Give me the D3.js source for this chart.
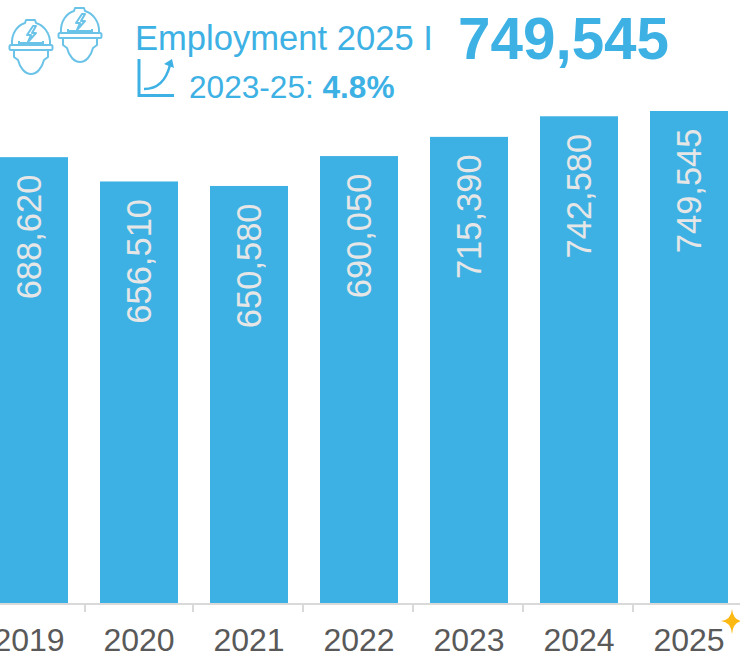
<!DOCTYPE html>
<html>
<head>
<meta charset="utf-8">
<script src="https://cdn.jsdelivr.net/npm/d3@7"></script>
<style>
html, body { margin: 0; padding: 0; background: #fff; overflow: hidden; }
text { font-family: "Liberation Sans", Arial, sans-serif; }
</style>
</head>
<body>
<div id="chart"></div>
<script>
const years = ['2019', '2020', '2021', '2022', '2023', '2024', '2025'];
const employment = [688620, 656510, 650580, 690050, 715390, 742580, 749545];
const yDomain = [100000, 749545];

const blue = '#3eb1e4';
const width = 740, height = 656;

const svg = d3.select('#chart').append('svg').attr('width', width).attr('height', height);

const x = d3.scaleBand().domain(years).range([-26, 744]).paddingInner(32 / 110).paddingOuter(16 / 110);
const y = d3.scaleLinear().domain(yDomain).range([603, 111]);

// bars
svg.selectAll('rect.bar').data(years).enter().append('rect')
    .attr('class', 'bar')
    .attr('x', d => x(d))
    .attr('y', (d, i) => y(employment[i]))
    .attr('width', x.bandwidth())
    .attr('height', (d, i) => y(yDomain[0]) - y(employment[i]))
    .attr('fill', blue);

// value labels, rotated inside the bars
svg.selectAll('text.val').data(years).enter().append('text')
    .attr('class', 'val')
    .attr('transform', (d, i) => `translate(${x(d) + x.bandwidth() / 2 + 12},${y(employment[i]) + 17.5}) rotate(-90)`)
    .attr('text-anchor', 'end')
    .attr('font-size', 34.5)
    .attr('fill', '#e6e6e6')
    .text((d, i) => d3.format(',')(employment[i]));

// axis
const axis = d3.axisBottom(x).tickSize(0).tickPadding(24);
const axisG = svg.append('g').attr('transform', 'translate(0,604)').call(axis);
axisG.select('.domain').remove();
axisG.selectAll('text').attr('font-size', 32).attr('fill', '#595959')
    .style('font-family', '"Liberation Sans", Arial, sans-serif');
svg.append('line').attr('x1', 0).attr('x2', width).attr('y1', 604).attr('y2', 604)
    .attr('stroke', '#d9d9d9').attr('stroke-width', 2);
const tickX = d => x(d) - (d === '2020' ? 15 : 17);
svg.selectAll('line.tick').data(years.slice(1)).enter().append('line')
    .attr('class', 'tick')
    .attr('x1', tickX).attr('x2', tickX)
    .attr('y1', 604).attr('y2', 612)
    .attr('stroke', '#d9d9d9').attr('stroke-width', 2);

// star next to the last year
svg.append('path')
    .attr('d', 'M732,609 Q733,620 742,621 Q733,622 732,634 Q731,622 721,621 Q731,620 732,609 Z')
    .attr('fill', '#fdb913');

// header
svg.append('text').attr('x', 135).attr('y', 50).attr('font-size', 34.6).attr('fill', blue).text('Employment 2025 I');
svg.append('text').attr('x', 458).attr('y', 59).attr('font-size', 58.4).attr('font-weight', 'bold').attr('fill', blue).text('749,545');
const growth = svg.append('text').attr('x', 189).attr('y', 98).attr('font-size', 31.6).attr('fill', blue);
growth.append('tspan').text('2023-25: ');
growth.append('tspan').attr('font-weight', 'bold').text('4.8%');

// growth icon
const icon = svg.append('g').attr('fill', 'none').attr('stroke', blue);
icon.append('path').attr('d', 'M139,59 V95.5 H174').attr('stroke-width', 3);
icon.append('path').attr('d', 'M144,89 C158,89 166,81 170,65').attr('stroke-width', 2.5);
svg.append('path').attr('d', 'M164,64 L172,59 L174,68 Z').attr('fill', blue);

// helmet icons
function helmet(tx, ty) {
    const g = svg.append('g').attr('transform', `translate(${tx},${ty})`)
        .attr('fill', 'none').attr('stroke', '#6cc3e8').attr('stroke-width', 2).attr('stroke-linejoin', 'round');
    g.append('path').attr('d', 'M3,26 C2,14 9,6 16,4 L17,1 H26 L27,4 C34,6 42,14 41,26');
    g.append('rect').attr('x', 0.5).attr('y', 26).attr('width', 43).attr('height', 5).attr('rx', 1.5);
    g.append('path').attr('d', 'M5,31 V38 L9,41 C11,49 16,55 22,55 C28,55 33,49 35,41 L39,38 V31');
    g.append('path').attr('d', 'M10,26 V22 M34,26 V22 M9,24 H35');
    g.append('path').attr('d', 'M24,7 L18,16 H22 L19,23 L27,14 H23 L27,7 Z');
}
helmet(9, 19);
helmet(58, 7);
</script>
</body>
</html>
